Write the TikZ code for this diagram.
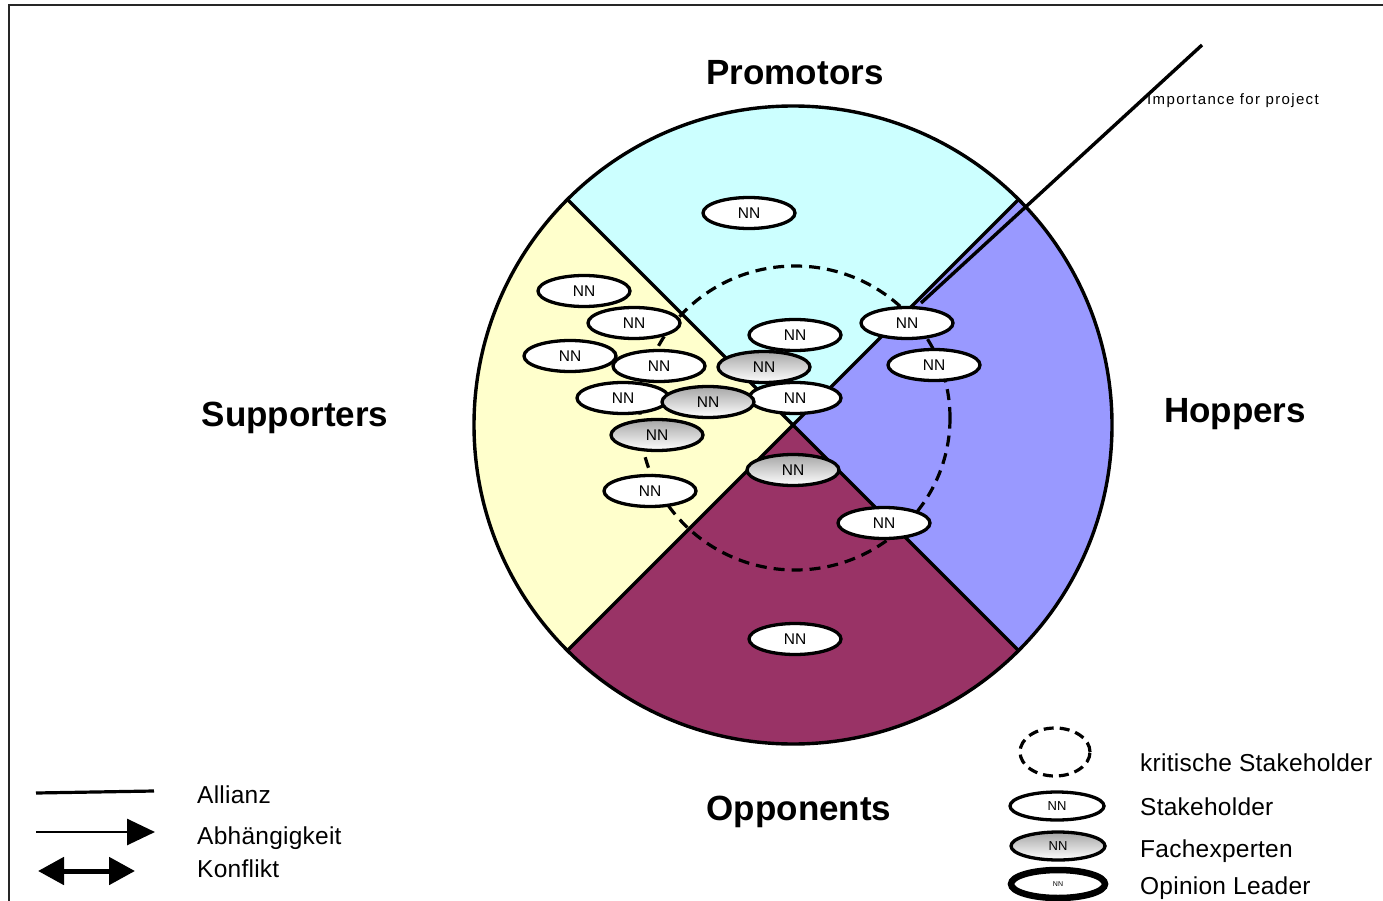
\documentclass[tikz,border=0pt]{standalone}
\usepackage{fontspec}
\setmainfont{Liberation Sans}
\usetikzlibrary{shapes.geometric,arrows.meta}
\definecolor{promocol}{HTML}{CCFFFF}
\definecolor{suppcol}{HTML}{FFFFCC}
\definecolor{hopcol}{HTML}{9999FF}
\definecolor{oppcol}{HTML}{993366}
\begin{document}
\begin{tikzpicture}[x=1pt,y=-1pt,
  stake/.style={ellipse,draw,line width=3.3pt,fill=white,minimum width=92pt,
    minimum height=31pt,inner sep=0pt,font=\fontsize{15.5}{15.5}\selectfont},
  expert/.style={stake,top color=gray!70,bottom color=white},
  legstake/.style={stake,minimum width=94pt,minimum height=28pt,font=\fontsize{13}{13}\selectfont},
  legexpert/.style={legstake,top color=gray!70,bottom color=white},
  title/.style={font=\fontsize{35}{40}\selectfont\bfseries},
  legtext/.style={anchor=west,inner sep=0pt,font=\fontsize{24.5}{26}\selectfont\addfontfeature{LetterSpace=1}},
  border/.style={line width=3.4pt,black}]
\useasboundingbox (0,0) rectangle (1383,901);
% outer frame
\draw[line width=1.5pt,black!85] (9,901) -- (9,5) -- (1383,5);

% the four sectors
\coordinate (c) at (793,425);
\fill[promocol] (c) -- ++(-135:319) arc[start angle=-135,end angle=-45,radius=319] -- cycle;
\fill[hopcol]   (c) -- ++(-45:319)  arc[start angle=-45,end angle=45,radius=319] -- cycle;
\fill[oppcol]   (c) -- ++(45:319)   arc[start angle=45,end angle=135,radius=319] -- cycle;
\fill[suppcol]  (c) -- ++(135:319)  arc[start angle=135,end angle=225,radius=319] -- cycle;
\draw[border] (c) circle[radius=319];
\draw[border] (c) ++(-135:319) -- ++(45:638);
\draw[border] (c) ++(-45:319) -- ++(135:638);

% importance axis
\coordinate (imp0) at (921,303);
\coordinate (imp1) at (1202,45);
\draw[line width=3.4pt] (imp0) -- (imp1);
\node[anchor=west,inner sep=0pt,font=\fontsize{15}{15}\addfontfeature{LetterSpace=9}] (implab) at (1147,101) {Importance for project};

% critical stakeholders
\node[ellipse,draw,dash pattern=on 11pt off 7pt,line width=3.2pt,minimum width=310pt,minimum height=304pt] (crit) at (795,418) {};

% stakeholders
\node[stake]  (s1)  at (749,213) {NN};
\node[stake]  (s2)  at (584,291) {NN};
\node[stake]  (s3)  at (634,323) {NN};
\node[stake]  (s4)  at (570,356) {NN};
\node[stake]  (s6)  at (795,335) {NN};
\node[stake]  (s5)  at (659,366) {NN};
\node[expert] (s7)  at (764,367) {NN};
\node[stake]  (s8)  at (623,398) {NN};
\node[stake]  (s10) at (795,398) {NN};
\node[expert] (s9)  at (708,402) {NN};
\node[expert] (s11) at (657,435) {NN};
\node[stake]  (s12) at (650,491) {NN};
\node[expert] (s13) at (793,470) {NN};
\node[stake]  (s14) at (907,323) {NN};
\node[stake]  (s15) at (934,365) {NN};
\node[stake]  (s16) at (884,523) {NN};
\node[stake]  (s17) at (795,639) {NN};

% group titles
\node[title] (promo) at (795,73) {Promotors};
\node[title] (supp) at (295,418) {Supporters};
\node[title] (hop) at (1235,414) {Hoppers};
\node[title] (opp) at (799,812) {Opponents};

% legend: relations
\coordinate (la0) at (36,793);
\coordinate (la1) at (154,791);
\draw[line width=3.2pt] (la0) -- (la1);
\node[legtext] (allianz) at (197,795) {Allianz};
\coordinate (lb0) at (36,832);
\coordinate (lb1) at (155,832);
\draw[line width=2.8pt,-{Triangle[length=28pt,width=26pt]}] (lb0) -- (lb1);
\node[legtext] (abh) at (197,838) {Abhängigkeit};
\coordinate (lc0) at (38,871);
\coordinate (lc1) at (135,871);
\draw[line width=5pt,{Triangle[length=26pt,width=27pt]}-{Triangle[length=26pt,width=27pt]}] (lc0) -- (lc1);
\node[legtext] (konf) at (197,869) {Konflikt};

% legend: stakeholder kinds
\node[ellipse,draw,dash pattern=on 10pt off 6pt,line width=3.2pt,minimum width=70pt,minimum height=48pt] (lk) at (1055,752) {};
\node[legtext] (lktext) at (1140,763) {kritische Stakeholder};
\node[legstake] (ls) at (1057,806) {NN};
\node[legtext] (lstext) at (1140,807) {Stakeholder};
\node[legexpert] (lf) at (1058,846) {NN};
\node[legtext] (lftext) at (1140,851) {Fachexperten};
\node[legstake,line width=6.5pt,font=\fontsize{7}{7}\selectfont] (lo) at (1058,884) {NN};
\node[legtext] (lotext) at (1140,888) {Opinion Leader};
\end{tikzpicture}
\end{document}
